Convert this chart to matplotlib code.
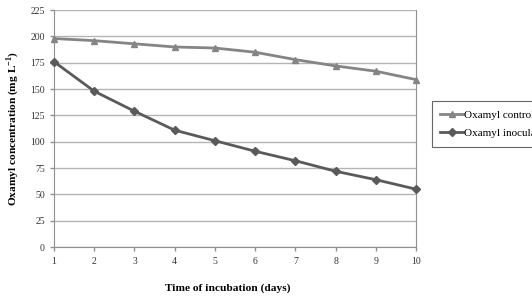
import matplotlib.pyplot as plt
import numpy as np

# data
DAYS = [1, 2, 3, 4, 5, 6, 7, 8, 9, 10]
CONTROL = [198, 196, 193, 190, 189, 185, 178, 172, 167, 159]
INOCULATED = [176, 148, 129, 111, 101, 91, 82, 72, 64, 55]
YTICKS = [0, 25, 50, 75, 100, 125, 150, 175, 200, 225]

plt.rcParams['font.family'] = ['Liberation Serif', 'DejaVu Serif']
plt.rcParams['mathtext.fontset'] = 'custom'
plt.rcParams['mathtext.rm'] = 'Liberation Serif'
plt.rcParams['mathtext.bf'] = 'Liberation Serif:bold'

fig = plt.figure(figsize=(5.32, 2.97), dpi=100)
ax = fig.add_axes([0.1015, 0.168, 0.6805, 0.798])

ax.plot(DAYS, CONTROL, color='#858585', marker='^', markersize=5, linewidth=2,
        label='Oxamyl control', clip_on=False, zorder=3)
ax.plot(DAYS, INOCULATED, color='#5a5a5a', marker='D', markersize=4, linewidth=2,
        label='Oxamyl inoculated', clip_on=False, zorder=3)

ax.set_xlim(1, 10)
ax.set_ylim(0, 225)
ax.set_xticks(DAYS)
ax.set_yticks(YTICKS)
ax.yaxis.grid(True, color='#b5b5b5', linewidth=1)
ax.set_axisbelow(True)

ax.spines['top'].set_visible(False)
for side in ['left', 'right', 'bottom']:
    ax.spines[side].set_color('#909090')
ax.tick_params(axis='both', colors='#909090', labelcolor='#333333', labelsize=7,
               length=3, width=1, direction='out')
ax.tick_params(axis='x', pad=4)

ax.set_xlabel('Time of incubation (days)', fontsize=8.2, fontweight='bold')
ax.xaxis.set_label_coords(0.48, -0.155)
ax.set_ylabel('Oxamyl concentration (mg L$^{\\mathbf{-1}}$)', fontsize=8.2,
              fontweight='bold')
ax.yaxis.set_label_coords(-0.09, 0.5)

leg = ax.legend(loc='upper left', bbox_to_anchor=(1.043, 0.617), fontsize=8,
                frameon=True, fancybox=False, borderaxespad=0, handlelength=2.0,
                handletextpad=0.1, labelspacing=0.75, borderpad=0.8)
leg.get_frame().set_edgecolor('#404040')
leg.get_frame().set_linewidth(0.8)

fig.savefig('out.png', dpi=100)
